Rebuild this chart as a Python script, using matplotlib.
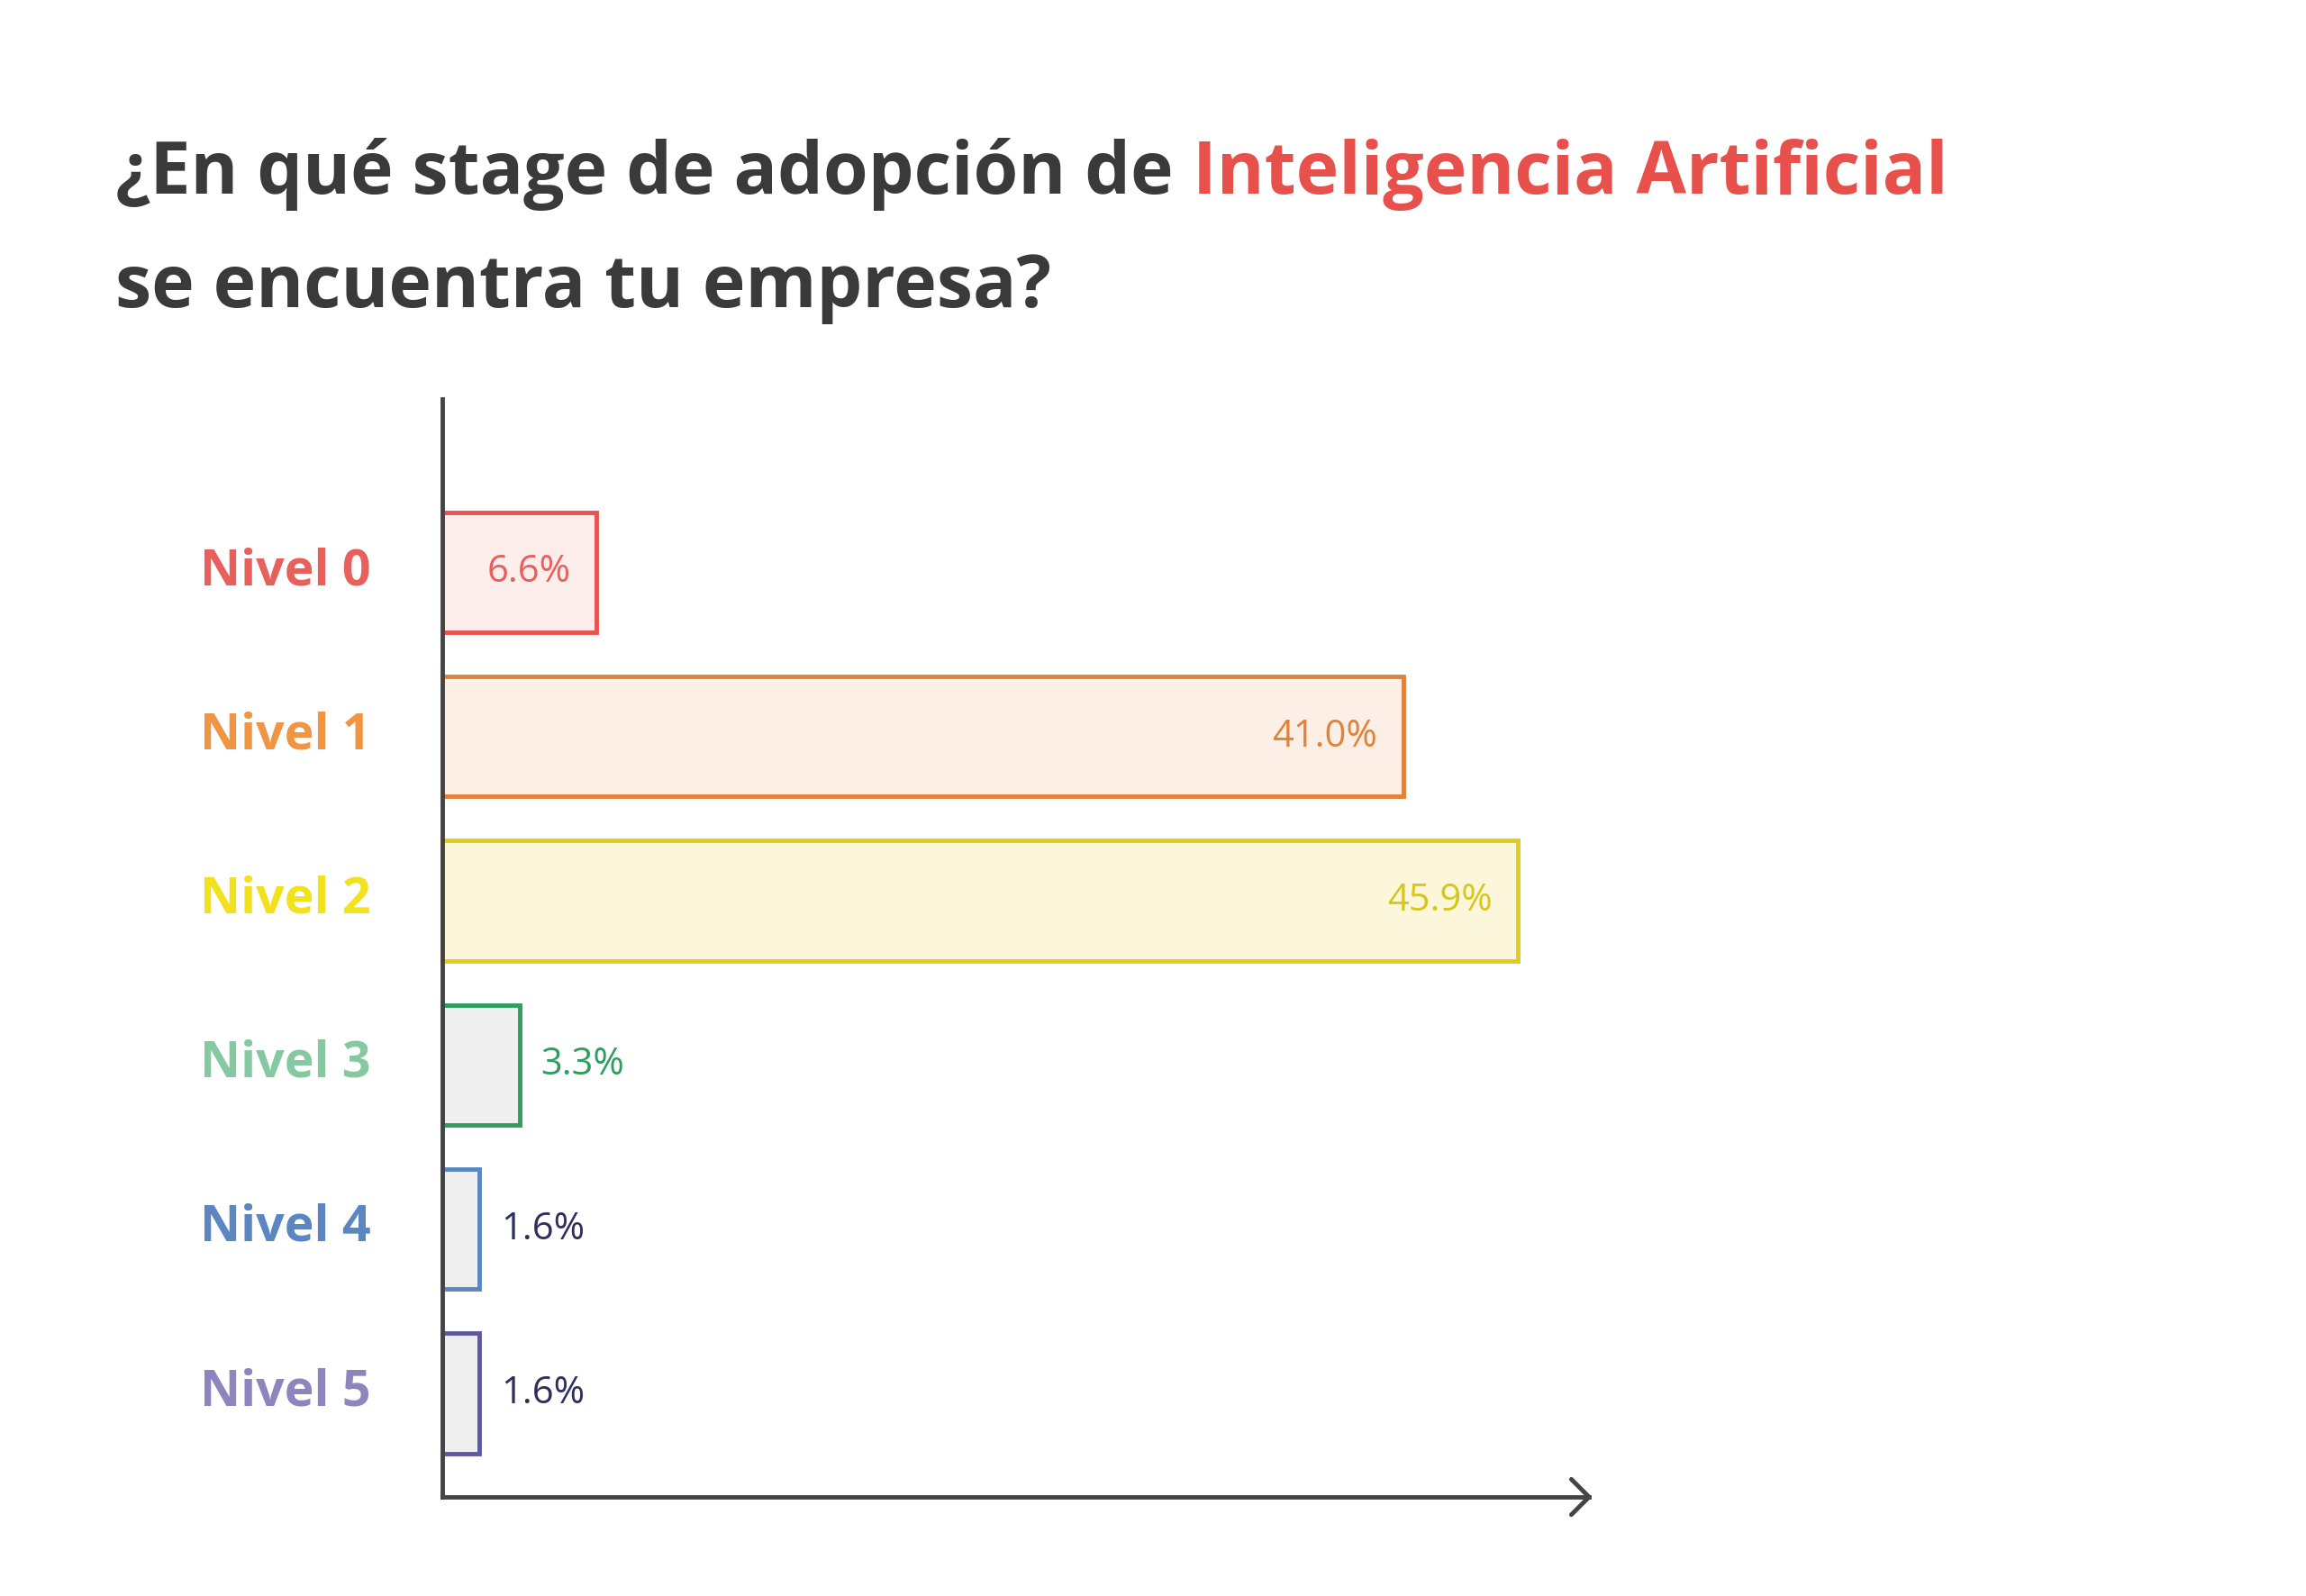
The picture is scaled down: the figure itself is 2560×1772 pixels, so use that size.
import matplotlib
matplotlib.use("Agg")
import matplotlib.pyplot as plt

categories = ["Nivel 0", "Nivel 1", "Nivel 2", "Nivel 3", "Nivel 4", "Nivel 5"]
values = [6.6, 41.0, 45.9, 3.3, 1.6, 1.6]
value_labels = ["6.6%", "41.0%", "45.9%", "3.3%", "1.6%", "1.6%"]
edge_colors = ["#E8534F", "#E0823A", "#E0CC1F", "#2E9E5E", "#5B86C2", "#5E5A9A"]
fill_colors = ["#FDEEEC", "#FDEFE6", "#FCF7DB", "#EFEFEF", "#EFEFEF", "#EFEFEF"]
label_colors = ["#E8605C", "#EF9544", "#F2E21E", "#86C8A0", "#5B86C2", "#8C85BE"]
value_colors = ["#E8605C", "#E0823A", "#D8C61E", "#2E9E5E", "#2F2F5F", "#2F2F5F"]

FONT = "Open Sans"
fig = plt.figure(figsize=(25.6, 17.72), dpi=100)
W, H = 1560, 1080
ax = fig.add_axes([299 / W, 1 - 1013 / H, (1075 - 299) / W, (1013 - 270) / H])
xmax = (1075 - 299) / ((1028 - 300) / 45.9)
ax.set_xlim(0, xmax)
ax.set_ylim(5 + (1013 - 943) / 111, -(387 - 270) / 111)
ax.barh(range(len(values)), values, height=0.73, color=fill_colors,
        edgecolor=edge_colors, linewidth=3.5, zorder=2)
for s in ["top", "right"]:
    ax.spines[s].set_visible(False)
for s in ["left", "bottom"]:
    ax.spines[s].set_linewidth(3.5)
    ax.spines[s].set_color("#444444")
ax.set_xticks([]); ax.set_yticks([])
dx = 12 / ((1028 - 300) / 45.9)
yb = ax.get_ylim()[0]
ax.plot([xmax - dx, xmax, xmax - dx], [yb - 0.108, yb, yb + 0.108], color="#444444",
        lw=3.5, clip_on=False, solid_capstyle="round", solid_joinstyle="round")

for i, (v, lab) in enumerate(zip(values, value_labels)):
    if v > 5:
        ax.text(v - 1.1, i, lab, ha="right", va="center", fontsize=30,
                color=value_colors[i], family=FONT)
    else:
        ax.text(v + 0.9, i, lab, ha="left", va="center", fontsize=30,
                color=value_colors[i], family=FONT)
    fig.text(135 / W, 1 - (387 + 111 * i) / H, categories[i], ha="left", va="center",
             fontsize=40, fontweight="bold", color=label_colors[i], family=FONT)

t1 = fig.text(78 / W, 1 - 118 / H, "¿En qué stage de adopción de ", ha="left", va="center",
              fontsize=58, fontweight="bold", color="#3A3A3A", family=FONT)
fig.canvas.draw()
bb = t1.get_window_extent()
fig.text(bb.x1 / fig.bbox.width, 1 - 118 / H, "Inteligencia Artificial", ha="left", va="center",
         fontsize=58, fontweight="bold", color="#E8504C", family=FONT)
fig.text(78 / W, 1 - 195 / H, "se encuentra tu empresa?", ha="left", va="center",
         fontsize=58, fontweight="bold", color="#3A3A3A", family=FONT)
fig.savefig("out.png", dpi=100, facecolor="white")
